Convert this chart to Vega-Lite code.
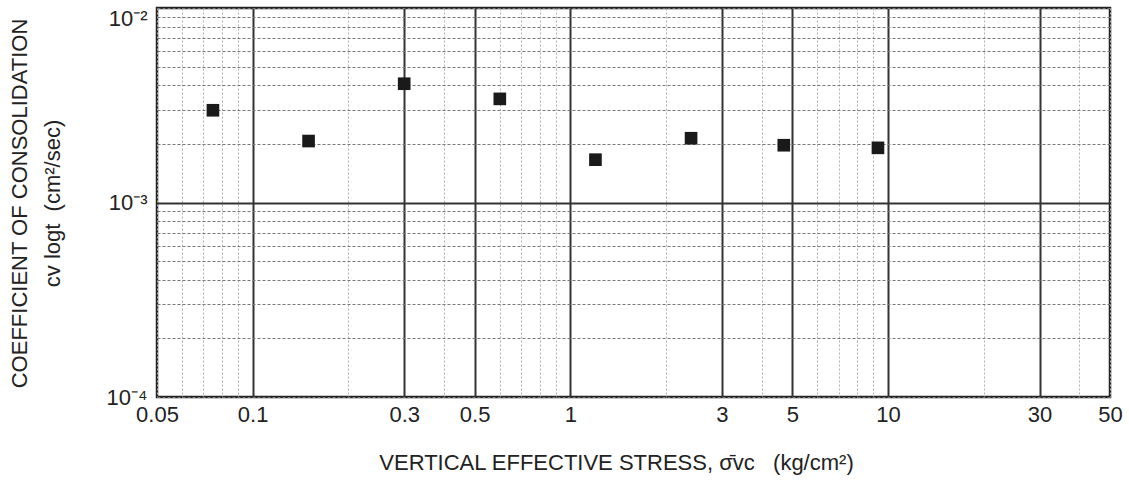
{
  "$schema": "https://vega.github.io/schema/vega-lite/v6.json",
  "width": 953,
  "height": 389,
  "autosize": {"type": "none"},
  "padding": {"left": 157, "top": 8, "right": 19, "bottom": 90},
  "background": "white",
  "config": {
    "view": {"stroke": "#222", "strokeWidth": 2.5},
    "font": "Liberation Sans"
  },
  "data": {
    "values": [
      {"stress": 0.075, "cv": 0.00298},
      {"stress": 0.15, "cv": 0.00207},
      {"stress": 0.3, "cv": 0.00408},
      {"stress": 0.6, "cv": 0.00341},
      {"stress": 1.2, "cv": 0.00166},
      {"stress": 2.4, "cv": 0.00214},
      {"stress": 4.7, "cv": 0.00197},
      {"stress": 9.3, "cv": 0.00191}
    ]
  },
  "mark": {"type": "square", "size": 160, "color": "#1a1a1a", "opacity": 1},
  "encoding": {
    "x": {
      "field": "stress",
      "type": "quantitative",
      "scale": {"type": "log", "domain": [0.05, 50], "nice": false},
      "axis": {
        "values": [0.05, 0.06, 0.07, 0.08, 0.09, 0.1, 0.2, 0.3, 0.4, 0.5, 0.6, 0.7, 0.8, 0.9, 1, 2, 3, 4, 5, 6, 7, 8, 9, 10, 20, 30, 40, 50],
        "labelExpr": "indexof([0.05,0.1,0.3,0.5,1,3,5,10,30,50], datum.value) >= 0 ? format(datum.value, '~g') : ''",
        "labelOverlap": false,
        "labelFlush": false,
        "labelFontSize": 22,
        "labelColor": "#222",
        "labelPadding": 7,
        "ticks": false,
        "domain": false,
        "grid": true,
        "gridColor": {"condition": {"test": "indexof([0.1,0.3,0.5,1,3,5,10,30], datum.value) >= 0", "value": "#333"}, "value": "#b0b0b0"},
        "gridWidth": {"condition": {"test": "indexof([0.1,0.3,0.5,1,3,5,10,30], datum.value) >= 0", "value": 2}, "value": 1},
        "gridDash": {"condition": {"test": "indexof([0.1,0.3,0.5,1,3,5,10,30], datum.value) >= 0", "value": []}, "value": [2, 2]},
        "title": "VERTICAL EFFECTIVE STRESS, σ̄vc\u00a0\u00a0\u00a0(kg/cm²)",
        "titleFontSize": 22,
        "titleFontWeight": "normal",
        "titleColor": "#222",
        "titleX": 459,
        "titleY": 72,
        "titleAlign": "center",
        "titleBaseline": "alphabetic"
      }
    },
    "y": {
      "field": "cv",
      "type": "quantitative",
      "scale": {"type": "log", "domain": [0.0001, 0.01], "nice": false},
      "axis": {
        "values": [0.0001, 0.0002, 0.0003, 0.0004, 0.0005, 0.0006, 0.0007, 0.0008, 0.0009, 0.001, 0.002, 0.003, 0.004, 0.005, 0.006, 0.007, 0.008, 0.009, 0.01],
        "labelExpr": "datum.value == 0.01 ? '10⁻²' : datum.value == 0.001 ? '10⁻³' : datum.value == 0.0001 ? '10⁻⁴' : ''",
        "labelOverlap": false,
        "labelFlush": false,
        "labelBaseline": {"condition": {"test": "datum.value == 0.01", "value": "top"}, "value": "middle"},
        "labelFontSize": 22,
        "labelColor": "#222",
        "labelPadding": 10,
        "ticks": false,
        "domain": false,
        "grid": true,
        "gridColor": {"condition": {"test": "datum.value == 0.001", "value": "#333"}, "value": "#777"},
        "gridWidth": {"condition": {"test": "datum.value == 0.001", "value": 2}, "value": 1.2},
        "gridDash": {"condition": {"test": "datum.value == 0.001", "value": []}, "value": [3, 2]},
        "title": ["COEFFICIENT OF CONSOLIDATION", "cv logt\u00a0\u00a0(cm²/sec)"],
        "titleFontSize": 22,
        "titleFontWeight": "normal",
        "titleColor": "#222",
        "titleAngle": 270,
        "titleX": -131,
        "titleY": 195,
        "titleAlign": "center",
        "titleBaseline": "alphabetic",
        "titleLineHeight": 33
      }
    }
  }
}
